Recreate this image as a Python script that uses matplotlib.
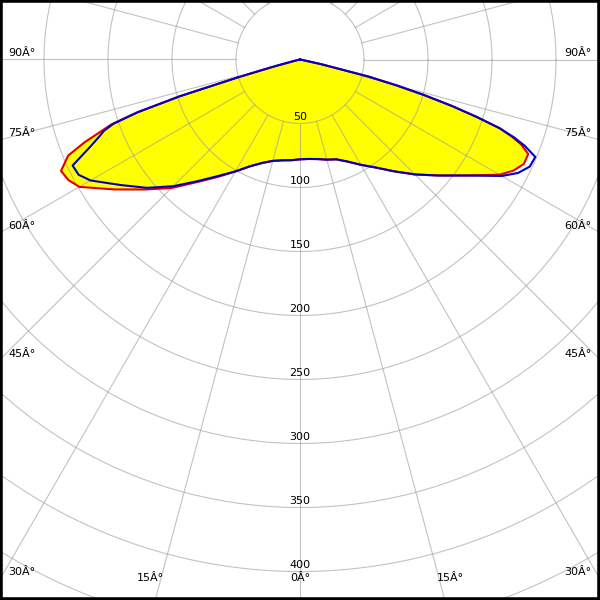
import numpy as np
import matplotlib
matplotlib.use("Agg")
import matplotlib.pyplot as plt
from matplotlib.patches import Rectangle

# gamma angles (degrees from nadir)
gamma = [0, 5, 10, 15, 20, 25, 30, 35, 40, 45, 50, 55, 60, 62.5, 65, 67.5, 69, 70,
         71, 72, 73, 74, 75, 76, 77.5, 80, 85, 90]

# red curve (filled yellow), left and right halves, cd
red_left = [78, 79, 80, 82, 86, 92, 101, 112, 125, 142, 158, 177, 199, 204, 206, 196, 180, 167,
            156, 134, 98, 49, 20, 5, 1, 0, 0, 0]
red_right = [78, 78, 79, 81, 83, 88, 95, 103, 114, 127, 141, 158, 180, 188, 193, 193, 185, 176,
             165, 145, 124, 101, 78, 55, 17, 1, 0, 0]

# blue curve, left and right halves, cd
blue_left = [78, 79, 80, 82, 86, 92, 101, 111, 124, 140, 156, 171, 189, 195, 196, 177, 168, 163,
             154, 133, 98, 49, 20, 5, 1, 0, 0, 0]
blue_right = [78, 78, 79, 81, 83, 88, 95, 103, 114, 127, 141, 158, 182, 192, 198, 199, 188, 178,
              165, 145, 124, 101, 78, 55, 17, 1, 0, 0]

ring_values = [50, 100, 150, 200, 250, 300, 350, 400, 450]
ring_labels = ["50", "100", "150", "200", "250", "300", "350", "400"]
spoke_angles = list(range(0, 360, 15))
angle_label = "Â°"

K = 1.28            # pixels per cd
CX, CY = 300, 59.5  # pole position in pixels


def to_xy(angles_deg, radii):
    a = np.radians(np.asarray(angles_deg, dtype=float))
    r = np.asarray(radii, dtype=float)
    return r * np.sin(a), -r * np.cos(a)


def full_curve(left, right):
    ang = [-g for g in gamma[::-1]] + gamma[1:]
    rad = list(left[::-1]) + list(right[1:])
    return to_xy(ang, rad)


fig = plt.figure(figsize=(6, 6), dpi=100)
ax = fig.add_axes([0, 0, 1, 1])
ax.set_xlim(-CX / K, (600 - CX) / K)
ax.set_ylim(-(600 - CY) / K, CY / K)
ax.set_axis_off()

grid_kw = dict(color="#9a9a9a", alpha=0.6, lw=0.8, zorder=2)

# red curve fill
rx, ry = full_curve(red_left, red_right)
ax.fill(rx, ry, color="#ffff00", zorder=1, lw=0)

# rings
for rv in ring_values:
    t = np.linspace(0, 2 * np.pi, 721)
    ax.plot(rv * np.cos(t), rv * np.sin(t), **grid_kw)

# spokes from 50 outward
for a in spoke_angles:
    sx, sy = to_xy([a, a], [ring_values[0], 600])
    ax.plot(sx, sy, **grid_kw)

# curves
ax.plot(rx, ry, color="#e00000", lw=1.5, zorder=3, solid_joinstyle="round")
bx, by = full_curve(blue_left, blue_right)
ax.plot(bx, by, color="#0000c8", lw=1.5, zorder=4, solid_joinstyle="round")

# ring labels
for rv, lab in zip(ring_values, ring_labels):
    ax.text(0, -rv + 1.0 / K, lab, ha="center", va="bottom", fontsize=8,
            color="black", zorder=5)

# angle labels (pixel positions at figure edge)
fs = 8
side_labels = [(90, 53), (75, 133), (60, 226), (45, 354), (30, 572)]
for deg, py in side_labels:
    fig.text(22 / 600, 1 - py / 600, f"{deg}{angle_label}", ha="center", va="center", fontsize=fs)
    fig.text(578 / 600, 1 - py / 600, f"{deg}{angle_label}", ha="center", va="center", fontsize=fs)
bottom_labels = [(15, 150), (0, 300), (15, 450)]
for deg, px in bottom_labels:
    fig.text(px / 600, 1 - 578 / 600, f"{deg}{angle_label}", ha="center", va="center", fontsize=fs)

# frame
fig.patches.append(Rectangle((0, 0), 1, 1, transform=fig.transFigure, fill=False,
                             edgecolor="black", lw=4, zorder=10))

fig.savefig("out.png", dpi=100)
